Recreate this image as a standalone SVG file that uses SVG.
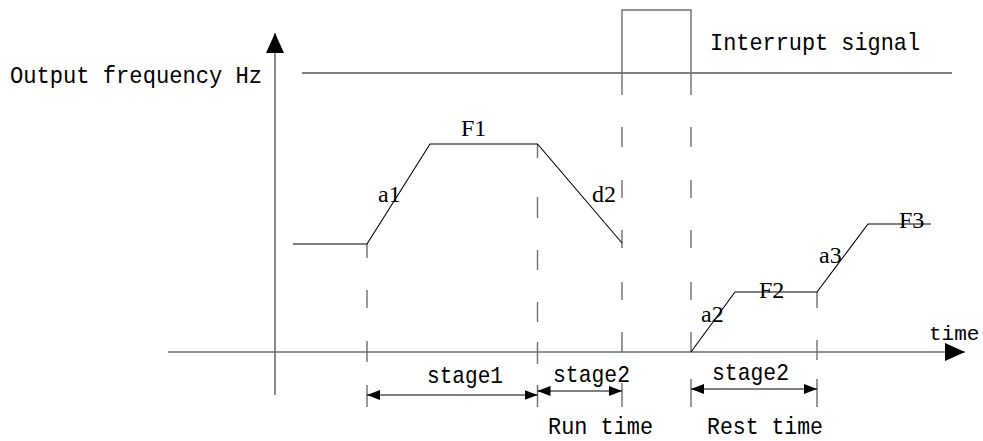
<svg xmlns="http://www.w3.org/2000/svg" width="983" height="441" viewBox="0 0 983 441">
<style>
.mono{font-family:"Liberation Mono","DejaVu Sans Mono",monospace;font-size:24px;fill:#000}
.serif{font-family:"Liberation Serif","Times New Roman",serif;font-size:24px;fill:#000}
.axis{stroke:#6e6e6e;stroke-width:1.6;fill:none}
.dash{stroke:#6e6e6e;stroke-width:1.4;fill:none}
.curve{stroke:#000;stroke-width:1.1;fill:none}
.dim{stroke:#000;stroke-width:1;fill:none}
</style>
<defs>
<marker id="big" viewBox="0 0 20 18" refX="20" refY="9" markerWidth="20" markerHeight="18" markerUnits="userSpaceOnUse" orient="auto"><path d="M0,0 L20,9 L0,18 Z" fill="#000"/></marker>
<marker id="small" viewBox="0 0 13 10" refX="13" refY="5" markerWidth="13" markerHeight="10" markerUnits="userSpaceOnUse" orient="auto-start-reverse"><path d="M0,0 L13,5 L0,10 Z" fill="#000"/></marker>
</defs>
<g id="axes">
<line class="axis" x1="275" y1="395" x2="275" y2="33" marker-end="url(#big)"/>
<line class="axis" x1="168" y1="352" x2="965" y2="352" marker-end="url(#big)"/>
</g>
<g id="output-line">
<line class="curve" x1="302" y1="73" x2="952" y2="73"/>
</g>
<g id="interrupt-pulse">
<path class="dash" d="M622,95 V10 H691 V95"/>
</g>
<g id="connectors">
<path class="dash" d="M367,244 V258 M367,290 V308 M367,341 V362 M367,385 V407"/>
<path class="dash" d="M537.5,144 V158 M537.5,197 V218 M537.5,250 V270 M537.5,302 V322 M537.5,342 V364 M537.5,385 V407"/>
<path class="dash" d="M622,127 V147 M622,180 V198 M622,230 V248 M622,282 V300 M622,332 V352 M622,383 V407"/>
<path class="dash" d="M691,127 V147 M691,180 V198 M691,230 V248 M691,282 V300 M691,332 V352 M691,379 V407"/>
<path class="dash" d="M817,292 V308 M817,340 V360 M817,379 V407"/>
<line class="dim" x1="367" y1="395" x2="537.5" y2="395" marker-start="url(#small)" marker-end="url(#small)"/>
<line class="dim" x1="537.5" y1="391" x2="622" y2="391" marker-start="url(#small)" marker-end="url(#small)"/>
<line class="dim" x1="691" y1="389" x2="817" y2="389" marker-start="url(#small)" marker-end="url(#small)"/>
</g>
<g id="profile">
<polyline class="curve" points="293,244 367,244 430,144 537.5,144 622,243"/>
<polyline class="curve" points="691,352 735,292 817,292 868,224 931,224"/>
</g>
<g id="labels">
<text class="mono" x="10" y="83" textLength="252" lengthAdjust="spacingAndGlyphs">Output frequency Hz</text>
<text class="mono" x="710" y="50" textLength="210" lengthAdjust="spacingAndGlyphs">Interrupt signal</text>
<text class="mono" x="929" y="340" style="font-size:21px">time</text>
<text class="mono" x="427" y="383" textLength="76" lengthAdjust="spacingAndGlyphs">stage1</text>
<text class="mono" x="553" y="382" textLength="77" lengthAdjust="spacingAndGlyphs">stage2</text>
<text class="mono" x="712" y="380" textLength="77" lengthAdjust="spacingAndGlyphs">stage2</text>
<text class="mono" x="548" y="434" textLength="105" lengthAdjust="spacingAndGlyphs">Run time</text>
<text class="mono" x="707" y="434" textLength="116" lengthAdjust="spacingAndGlyphs">Rest time</text>
<text class="serif" x="461" y="136">F1</text>
<text class="serif" x="378" y="202">a1</text>
<text class="serif" x="592" y="202">d2</text>
<text class="serif" x="701" y="322">a2</text>
<text class="serif" x="759" y="298">F2</text>
<text class="serif" x="819" y="263">a3</text>
<text class="serif" x="899" y="228">F3</text>
</g>
</svg>
